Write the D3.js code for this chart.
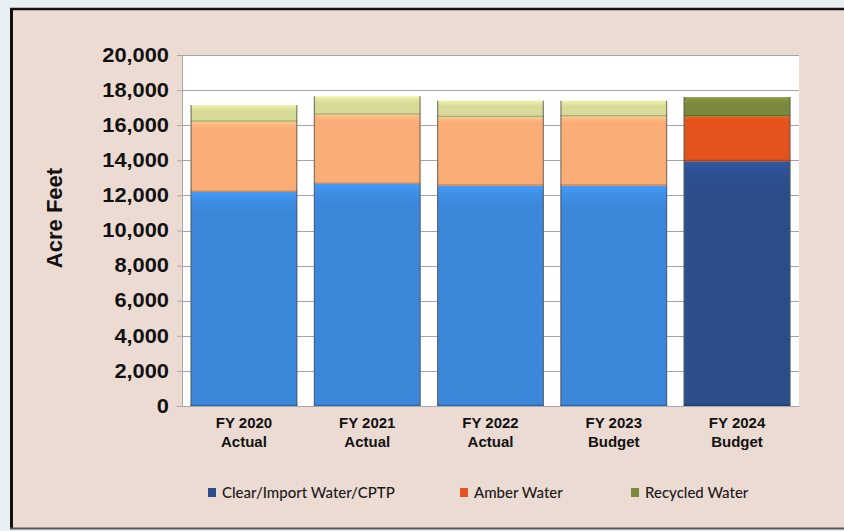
<!DOCTYPE html>
<html>
<head>
<meta charset="utf-8">
<script src="https://cdn.jsdelivr.net/npm/d3@7"></script>
<style>
  html, body { margin: 0; padding: 0; background: #e7eef2; }
  svg { display: block; }
</style>
</head>
<body>
<svg id="chart" width="844" height="531"></svg>
<script>
// Water supply by source, acre feet
const categories = ["FY 2020|Actual", "FY 2021|Actual", "FY 2022|Actual", "FY 2023|Budget", "FY 2024|Budget"];
const seriesNames = ["Clear/Import Water/CPTP", "Amber Water", "Recycled Water"];
const clearImport = [12200, 12650, 12550, 12550, 13950];
const amber = [4000, 3950, 3900, 3950, 2550];
const recycled = [950, 1050, 950, 900, 1100];
const yTicks = [0, 2000, 4000, 6000, 8000, 10000, 12000, 14000, 16000, 18000, 20000];

// historical years use the pale palette, the budget year the saturated one
const paleColors = ["#3c87da", "#fbad77", "#d8da98"];
const darkColors = ["#2b4d8b", "#e4531b", "#7b8a3a"];

const svg = d3.select("#chart");
const W = 844, H = 531;

// outer panel
svg.append("rect").attr("x", 0).attr("y", 0).attr("width", W).attr("height", H).attr("fill", "#e8eff3");
svg.append("rect").attr("x", 11).attr("y", 9).attr("width", W).attr("height", 519).attr("fill", "#ecdbd3");
svg.append("line").attr("x1", 11.5).attr("x2", 11.5).attr("y1", 8).attr("y2", 529).attr("stroke", "#111").attr("stroke-width", 3);
svg.append("line").attr("x1", 10).attr("x2", W).attr("y1", 9).attr("y2", 9).attr("stroke", "#111").attr("stroke-width", 2.5);
svg.append("line").attr("x1", 10).attr("x2", W).attr("y1", 528.5).attr("y2", 528.5).attr("stroke", "#555").attr("stroke-width", 2);

const x = d3.scaleBand().domain(categories).range([182, 799]).paddingInner(0.135).paddingOuter(0.07);
const y = d3.scaleLinear().domain([0, 20000]).range([406, 55]);

// plot area
svg.append("rect").attr("x", 182).attr("y", y(20000)).attr("width", 617).attr("height", y(0) - y(20000)).attr("fill", "#ffffff");

// gridlines
svg.append("g").selectAll("line").data(yTicks.filter(d => d > 0)).join("line")
  .attr("x1", 182).attr("x2", 799)
  .attr("y1", d => Math.round(y(d)) + 0.5).attr("y2", d => Math.round(y(d)) + 0.5)
  .attr("stroke", "#a4a4a4").attr("stroke-width", 1.2);

// gradients for the segment shading: a thin light band at the top of each segment
const defs = svg.append("defs");
function addGrad(id, base) {
  const c = d3.color(base);
  const g = defs.append("linearGradient").attr("id", id).attr("x1", 0).attr("x2", 0).attr("y1", 0).attr("y2", 1);
  g.append("stop").attr("offset", "0%").attr("stop-color", c.brighter(0.4).formatHex());
  g.append("stop").attr("offset", "4%").attr("stop-color", c.brighter(0.15).formatHex());
  g.append("stop").attr("offset", "10%").attr("stop-color", base);
  g.append("stop").attr("offset", "100%").attr("stop-color", base);
  return `url(#${id})`;
}
function addGradSmall(id, base) {
  const c = d3.color(base);
  const g = defs.append("linearGradient").attr("id", id).attr("x1", 0).attr("x2", 0).attr("y1", 0).attr("y2", 1);
  g.append("stop").attr("offset", "0%").attr("stop-color", c.brighter(0.3).formatHex());
  g.append("stop").attr("offset", "35%").attr("stop-color", base);
  g.append("stop").attr("offset", "100%").attr("stop-color", base);
  return `url(#${id})`;
}
const fills = categories.map((c, i) => (i === 4 ? darkColors : paleColors).map((col, s) =>
  s === 2 ? addGradSmall(`g${i}_${s}`, col) : addGrad(`g${i}_${s}`, col)));

const values = [clearImport, amber, recycled];
const stackData = categories.map((c, i) => {
  const row = { cat: c, idx: i };
  seriesNames.forEach((s, k) => row[s] = values[k][i]);
  return row;
});
const stacked = d3.stack().keys(seriesNames)(stackData);

const bars = svg.append("g");
stacked.forEach((layer, s) => {
  bars.append("g").selectAll("rect").data(layer).join("rect")
    .attr("x", d => x(d.data.cat))
    .attr("width", x.bandwidth())
    .attr("y", d => y(d[1]))
    .attr("height", d => y(d[0]) - y(d[1]))
    .attr("fill", d => fills[d.data.idx][s]);
  // darker rim along the lower edge of each segment
  bars.append("g").selectAll("line").data(layer).join("line")
    .attr("x1", d => x(d.data.cat)).attr("x2", d => x(d.data.cat) + x.bandwidth())
    .attr("y1", d => y(d[0]) - 0.75).attr("y2", d => y(d[0]) - 0.75)
    .attr("stroke", d => d3.color((d.data.idx === 4 ? darkColors : paleColors)[s]).darker(0.8).formatHex())
    .attr("stroke-width", 1.5).attr("opacity", 0.8);
});
// side edges of each bar
bars.append("g").selectAll("path").data(stackData).join("path")
  .attr("d", d => {
    const x0 = x(d.cat) + 0.5, x1 = x(d.cat) + x.bandwidth() - 0.5;
    const top = y(d3.sum(values, v => v[d.idx]));
    return `M${x0},${y(0)}V${top}M${x1},${y(0)}V${top}`;
  })
  .attr("stroke", "#555").attr("stroke-width", 1.2).attr("fill", "none").attr("opacity", 0.7);

// axes
const yAxis = svg.append("g").attr("transform", "translate(182,0)")
  .call(d3.axisLeft(y).tickValues(yTicks).tickSize(5).tickPadding(8).tickFormat(d3.format(",")));
yAxis.select(".domain").attr("stroke", "#a8a8a8");
yAxis.selectAll(".tick line").attr("stroke", "#a8a8a8");
yAxis.selectAll("text").attr("font-family", "Liberation Sans, Arial, sans-serif")
  .attr("font-weight", "bold").attr("font-size", 19.5).attr("fill", "#111")
  .attr("transform", "scale(1.12,1)").attr("x", -13 / 1.12);

const xAxis = svg.append("g").attr("transform", `translate(0,${y(0)})`)
  .call(d3.axisBottom(x).tickSize(0).tickFormat(""));
xAxis.select(".domain").attr("stroke", "#a8a8a8");

const xl = svg.append("g").selectAll("text").data(categories).join("text")
  .attr("x", d => x(d) + x.bandwidth() / 2)
  .attr("text-anchor", "middle")
  .attr("font-family", "Liberation Sans, Arial, sans-serif")
  .attr("font-weight", "bold").attr("font-size", 15).attr("fill", "#111");
xl.append("tspan").attr("x", d => x(d) + x.bandwidth() / 2).attr("y", 428).text(d => d.split("|")[0]);
xl.append("tspan").attr("x", d => x(d) + x.bandwidth() / 2).attr("y", 447).text(d => d.split("|")[1]);

// y axis title
svg.append("text")
  .attr("transform", "translate(62,218) rotate(-90)")
  .attr("text-anchor", "middle")
  .attr("font-family", "Liberation Sans, Arial, sans-serif")
  .attr("font-weight", "bold").attr("font-size", 22).attr("fill", "#111")
  .text("Acre Feet");

// legend
const legendX = [208, 460, 631];
const lg = svg.append("g").selectAll("g").data(seriesNames).join("g")
  .attr("transform", (d, i) => `translate(${legendX[i]},488)`);
lg.append("rect").attr("width", 8).attr("height", 9).attr("fill", (d, i) => darkColors[i]);
lg.append("text").attr("x", 14).attr("y", 9.5)
  .attr("font-family", "Lato, sans-serif").attr("font-weight", 500).attr("font-size", 15).attr("fill", "#1a1a1a")
  .text(d => d);
</script>
</body>
</html>
